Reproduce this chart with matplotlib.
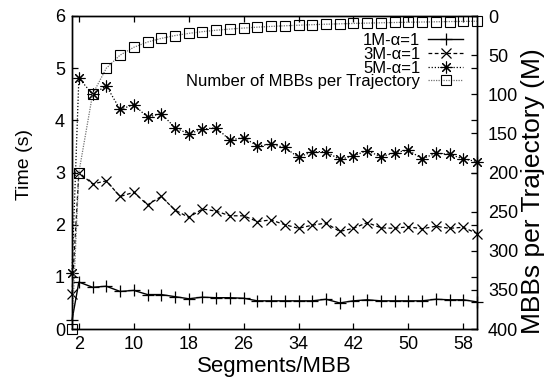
import matplotlib
matplotlib.use("Agg")
from matplotlib import pyplot as plt

plt.rcParams["font.family"] = ["Liberation Sans", "DejaVu Sans"]

# segments per MBB
segs = [1, 2, 4, 6, 8, 10, 12, 14, 16, 18, 20, 22, 24, 26, 28, 30,
        32, 34, 36, 38, 40, 42, 44, 46, 48, 50, 52, 54, 56, 58, 60]

# query time (s) for 1M, 3M, 5M trajectories
time_1m = [0.17, 0.90, 0.80, 0.82, 0.72, 0.74, 0.66, 0.66, 0.62, 0.58, 0.61,
           0.60, 0.60, 0.59, 0.54, 0.54, 0.54, 0.54, 0.54, 0.57, 0.50, 0.54,
           0.56, 0.54, 0.54, 0.54, 0.54, 0.57, 0.56, 0.56, 0.52]
time_3m = [0.68, 3.00, 2.78, 2.84, 2.54, 2.62, 2.38, 2.54, 2.28, 2.14, 2.30,
           2.26, 2.17, 2.17, 2.06, 2.09, 2.00, 1.93, 1.99, 2.03, 1.87, 1.93,
           2.04, 1.94, 1.93, 1.96, 1.92, 1.97, 1.93, 1.95, 1.83]
time_5m = [1.08, 4.81, 4.50, 4.66, 4.21, 4.30, 4.06, 4.13, 3.86, 3.74, 3.83,
           3.86, 3.62, 3.67, 3.51, 3.54, 3.48, 3.29, 3.40, 3.40, 3.25, 3.32,
           3.42, 3.30, 3.38, 3.43, 3.26, 3.37, 3.35, 3.26, 3.21]

# number of MBBs per trajectory (millions)
mbbs = [400, 200, 100, 66.7, 50, 40, 33.3, 28.6, 25, 22.2, 20, 18.2, 16.7,
        15.4, 14.3, 13.3, 12.5, 11.8, 11.1, 10.5, 10, 9.5, 9.1, 8.7, 8.3, 8,
        7.7, 7.4, 7.1, 6.9, 6.7]

xticks = [2, 10, 18, 26, 34, 42, 50, 58]

fig = plt.figure(figsize=(5.45, 3.77), dpi=100)
ax = fig.add_axes([72 / 545, 1 - 329 / 377, 405 / 545, 313 / 377])
ax2 = ax.twinx()

star = (8, 2, 0)
l1, = ax.plot(segs, time_1m, color="black", lw=1.0, marker="+", ms=8,
              mew=0.9, clip_on=False, label="1M-\u03b1=1")
l3, = ax.plot(segs, time_3m, color="black", lw=0.9, ls=(0, (3, 2)),
              marker="x", ms=7.5, mew=0.9, clip_on=False, label="3M-\u03b1=1")
l5, = ax.plot(segs, time_5m, color="black", lw=0.9, ls=(0, (1, 1.5)),
              marker=star, ms=8.5, mew=0.8, clip_on=False, label="5M-\u03b1=1")
lm, = ax2.plot(segs, mbbs, color="0.45", lw=0.9, ls=(0, (1, 1)),
               marker="s", ms=7.5, mfc="none", mec="black", mew=0.8,
               clip_on=False, label="Number of MBBs per Trajectory")

ax.set_xlim(1, 60)
ax.set_ylim(0, 6)
ax.set_xticks(xticks)
ax.set_yticks(range(0, 7))
ax2.set_ylim(400, 0)
ax2.set_yticks(range(0, 401, 50))

ax.tick_params(direction="in", length=4.5, width=0.9, labelsize=13,
               top=True, right=True, pad=5)
ax2.tick_params(direction="in", length=4.5, width=0.9, labelsize=13, pad=8)
for a in (ax, ax2):
    for s in a.spines.values():
        s.set_linewidth(1.0)

ax.set_xlabel("Segments/MBB", fontsize=16, labelpad=2)
ax.set_ylabel("Time (s)", fontsize=14)
ax.yaxis.set_label_coords(-0.096, 0.527)
ax2.set_ylabel("MBBs per Trajectory (M)", fontsize=19)
ax2.yaxis.set_label_coords(1.108, 0.44)

leg = ax2.legend(handles=[l1, l3, l5, lm], loc="upper right",
                 bbox_to_anchor=(391 / 405, 0.945), markerfirst=False,
                 frameon=False, fontsize=12, labelspacing=-0.08,
                 handlelength=2.1, handletextpad=0.45, borderpad=0,
                 borderaxespad=0)

fig.savefig("out.png", dpi=100)
